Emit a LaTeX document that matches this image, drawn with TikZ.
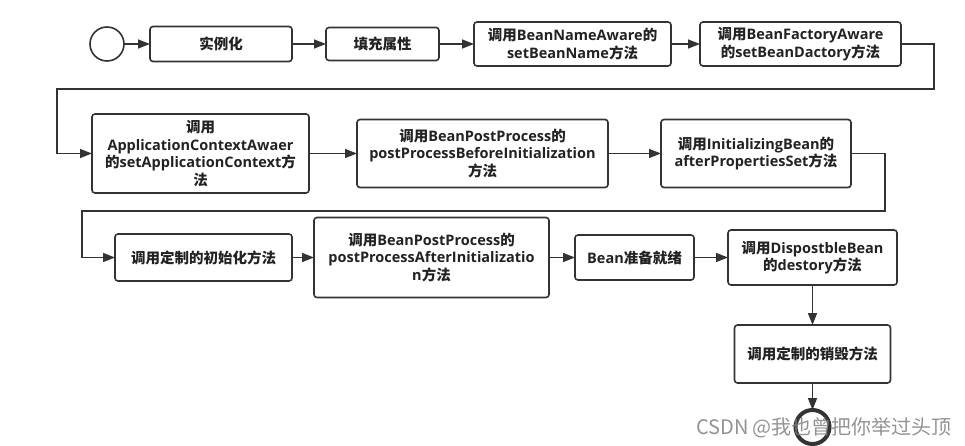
\documentclass[tikz,border=0pt]{standalone}
\usepackage{fontspec}
\setmainfont{Open Sans}
\newfontfamily\zhfont{Noto Sans CJK SC}
\usepackage{tikz}
\usetikzlibrary{arrows.meta,positioning}
\definecolor{linegray}{RGB}{51,51,51}
\definecolor{textgray}{RGB}{34,34,34}
\newcommand{\zhtxt}[1]{{\zhfont #1}}

\begin{document}
\begin{tikzpicture}[
  x=1pt, y=-1pt,
  box/.style={draw=linegray, line width=1.6pt, rounded corners=3pt, fill=white,
    align=center, text=textgray, inner sep=2pt, outer sep=0pt,
    font=\bfseries\fontsize{14.5}{17.5}\selectfont},
  state/.style={circle, draw=linegray, minimum size=34pt, inner sep=0pt, outer sep=0pt},
  arr/.style={-{Triangle[length=12pt,width=9pt]}, line width=1.6pt, linegray}
]
  \useasboundingbox (0,0) rectangle (965,446);

  % first row
  \node[state, line width=1.6pt] (start) at (107,44) {};
  \node[box, minimum width=142pt, minimum height=35pt, right=26pt of start] (inst) {\zhtxt{实例化}};
  \node[box, minimum width=113pt, minimum height=33pt, right=34pt of inst] (fill) {\zhtxt{填充属性}};
  \node[box, minimum width=197pt, minimum height=44pt, right=35pt of fill] (bna) {\zhtxt{调用}BeanNameAware\zhtxt{的}\\setBeanName\zhtxt{方法}};
  \node[box, minimum width=201pt, minimum height=44pt, right=29pt of bna] (bfa) {\zhtxt{调用}BeanFactoryAware\\\zhtxt{的}setBeanDactory\zhtxt{方法}};

  % second row
  \node[box, minimum width=217pt, minimum height=79pt] (actx) at (200.5,153.5) {\zhtxt{调用}\\ApplicationContextAwaer\\\zhtxt{的}setApplicationContext\zhtxt{方}\\\zhtxt{法}};
  \node[box, minimum width=251pt, minimum height=68pt, right=48pt of actx] (bppb) {\zhtxt{调用}BeanPostProcess\zhtxt{的}\\postProcessBeforeInitialization\\\zhtxt{方法}};
  \node[box, minimum width=190pt, minimum height=68pt, right=53pt of bppb] (init) {\zhtxt{调用}InitializingBean\zhtxt{的}\\afterPropertiesSet\zhtxt{方法}};

  % third row
  \node[box, minimum width=177pt, minimum height=47pt] (cinit) at (203.5,257.5) {\zhtxt{调用定制的初始化方法}};
  \node[box, minimum width=235pt, minimum height=80pt, right=22pt of cinit] (bppa) {\zhtxt{调用}BeanPostProcess\zhtxt{的}\\postProcessAfterInitializatio\\n\zhtxt{方法}};
  \node[box, minimum width=119pt, minimum height=45pt, right=26pt of bppa] (ready) {Bean\zhtxt{准备就绪}};
  \node[box, minimum width=169pt, minimum height=55pt, right=34pt of ready] (disp) {\zhtxt{调用}DispostbleBean\\\zhtxt{的}destory\zhtxt{方法}};
  \node[box, minimum width=156pt, minimum height=58pt, below=40pt of disp] (destroy) {\zhtxt{调用定制的销毁方法}};
  \node[state, line width=4pt, below=27pt of destroy] (end) {};

  \coordinate (bend1) at (57,89);
  \coordinate (bend2) at (82,211);

  \draw[arr] (start) -- (inst);
  \draw[arr] (inst) -- (fill);
  \draw[arr] (fill) -- (bna);
  \draw[arr] (bna) -- (bfa);
  \draw[arr] (bfa.east) -- ++(33,0) |- (bend1) |- (actx.west);
  \draw[arr] (actx) -- (bppb);
  \draw[arr] (bppb) -- (init);
  \draw[arr] (init.east) -- ++(34,0) |- (bend2) |- (cinit.west);
  \draw[arr] (cinit) -- (bppa);
  \draw[arr] (bppa) -- (ready);
  \draw[arr] (ready) -- (disp);
  \draw[arr] (disp) -- (destroy);
  \draw[arr] (destroy) -- (end);

  \node[text=gray, opacity=0.85, font=\zhfont\fontsize{20}{20}\selectfont] (watermark) at (824,428) {CSDN @我也曾把你举过头顶};
\end{tikzpicture}
\end{document}
